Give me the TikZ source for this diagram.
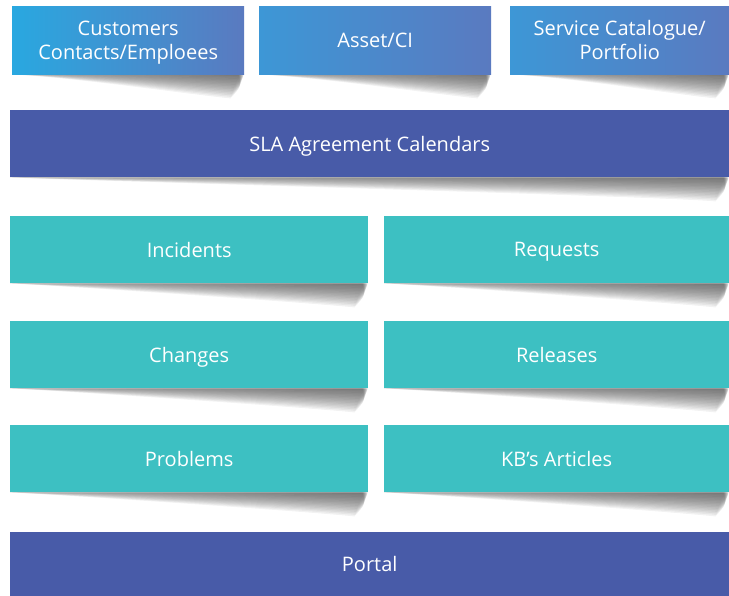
\documentclass[tikz,border=0pt]{standalone}
\usepackage{fontspec}
\setmainfont{Open Sans}
\usetikzlibrary{backgrounds}
\definecolor{skyblue}{HTML}{29A8E0}
\definecolor{midblue}{HTML}{3D97D6}
\definecolor{slateblue}{HTML}{5A7AC0}
\definecolor{bandblue}{HTML}{485BA8}
\definecolor{tealbox}{HTML}{3DC0C2}

\begin{document}
\begin{tikzpicture}[
        x=1pt, y=-1pt,
        every node/.style={anchor=north west, inner sep=0pt, text=white, align=center,
            text depth=0pt, font=\fontsize{20}{24}\selectfont},
        topbox/.style={left color=#1, right color=slateblue, minimum height=68pt},
        topbox/.default=skyblue,
        band/.style={fill=bandblue, minimum width=719pt, minimum height=67pt},
        cell/.style={fill=tealbox, minimum height=67pt},
        leftcell/.style={cell, minimum width=358pt},
        rightcell/.style={cell, minimum width=345pt},
        boxshadow/.style={left color=white, right color=black!50, fill opacity=0.035}
    ]
    \useasboundingbox (0,0) rectangle (729,596);
    % top row
    \node[topbox, minimum width=232pt] (customers) at (12,6) {Customers\\Contacts/Emploees};
    \node[topbox=midblue, minimum width=232pt] (asset) at (259,6) {Asset/CI};
    \node[topbox=midblue, minimum width=219pt] (catalogue) at (510,6) {Service Catalogue/\\Portfolio};
    % bands and cells
    \node[band] (sla) at (10,110) {SLA Agreement Calendars};
    \node[leftcell] (incidents) at (10,216) {Incidents};
    \node[rightcell] (requests) at (384,216) {Requests};
    \node[leftcell] (changes) at (10,321) {Changes};
    \node[rightcell] (releases) at (384,321) {Releases};
    \node[leftcell] (problems) at (10,425) {Problems};
    \node[rightcell] (articles) at (384,425) {KB’s Articles};
    \node[band, minimum height=64pt] (portal) at (10,532) {Portal};
    % curled shadows, built up from soft layers
    \begin{scope}[on background layer]
        \foreach \n in {customers,asset,catalogue,sla,incidents,requests,changes,releases,problems,articles}
            \foreach \d in {1.5,3,...,24}
                \fill[boxshadow] (\n.south west) -- ([xshift=-\d/4]\n.south east)
                    .. controls ([xshift=-\d/8,yshift=-\d/2]\n.south east) .. ([xshift=-6-\d/3,yshift=-\d]\n.south east)
                    .. controls ([xshift=-60,yshift=-0.8*\d]\n.south east) and ([xshift=60,yshift=-\d/8]\n.south west) .. (\n.south west);
    \end{scope}
\end{tikzpicture}
\end{document}
